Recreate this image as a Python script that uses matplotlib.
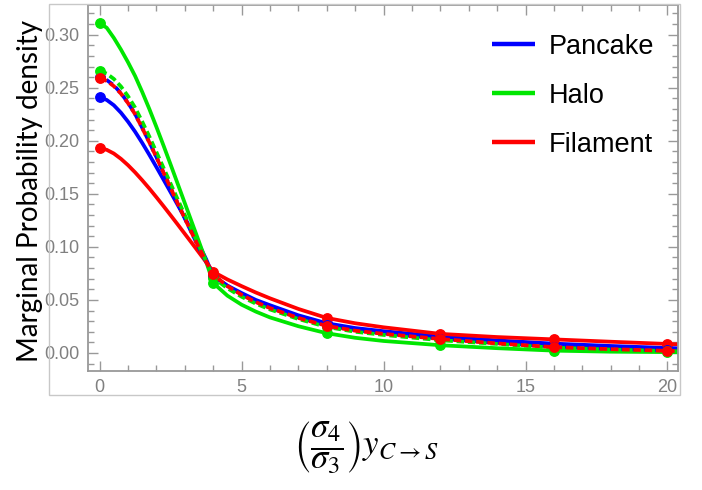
import matplotlib.pyplot as plt
from matplotlib.patches import Rectangle
from matplotlib.ticker import MultipleLocator, FormatStrFormatter

# curve samples (x in units of (sigma4/sigma3) y_{C->S})
x_vals = [0, 0.25, 0.5, 0.75, 1, 1.25, 1.5, 1.75, 2, 2.25, 2.5, 2.75, 3, 3.25, 3.5, 3.75, 4,
          4.5, 5, 5.5, 6, 7, 8, 9, 10, 12, 14, 16, 18, 20, 20.4]
# indices of the sampled points shown as dots (x = 0, 4, 8, 12, 16, 20)
dot_idx = [0, 16, 22, 25, 27, 29]

pancake = [0.241, 0.2385, 0.2335, 0.2265, 0.2180, 0.2085, 0.1980, 0.1868, 0.1752, 0.1634,
           0.1515, 0.1395, 0.1275, 0.1150, 0.1022, 0.0885, 0.0725,
           0.0635, 0.0565, 0.0500, 0.0450, 0.0355, 0.0280, 0.0235, 0.0205, 0.0155, 0.0118,
           0.0088, 0.0066, 0.0047, 0.0044]
halo = [0.311, 0.3065, 0.297, 0.286, 0.274, 0.261, 0.246, 0.230, 0.213, 0.1955,
        0.1776, 0.1594, 0.1412, 0.1230, 0.1048, 0.0862, 0.066,
        0.054, 0.0455, 0.039, 0.0335, 0.0252, 0.0186, 0.0143, 0.0113, 0.0073, 0.0045,
        0.0022, 0.0012, 0.0008, 0.0007]
filament = [0.193, 0.1915, 0.1880, 0.1830, 0.1770, 0.1702, 0.1628, 0.1550, 0.1468, 0.1384,
            0.1298, 0.1211, 0.1123, 0.1035, 0.0946, 0.0857, 0.0765,
            0.0693, 0.0630, 0.0570, 0.0515, 0.0415, 0.0330, 0.0280, 0.0242, 0.0180, 0.0150,
            0.0128, 0.0106, 0.0085, 0.0082]

# dashed counterparts
pancake_d = [0.260, 0.2573, 0.2522, 0.2450, 0.2358, 0.2252, 0.2122, 0.1987, 0.1846, 0.1701,
             0.1556, 0.1411, 0.1268, 0.1128, 0.0990, 0.0860, 0.0730,
             0.0632, 0.0552, 0.0485, 0.0428, 0.0335, 0.0260, 0.0215, 0.0185, 0.0135, 0.0095,
             0.0060, 0.0040, 0.0025, 0.0022]
halo_d = [0.266, 0.2633, 0.2583, 0.2512, 0.2420, 0.2312, 0.2180, 0.2040, 0.1893, 0.1745,
          0.1595, 0.1447, 0.1300, 0.1153, 0.1005, 0.0865, 0.0710,
          0.0610, 0.0530, 0.0465, 0.0410, 0.0320, 0.0245, 0.0200, 0.0170, 0.0120, 0.0085,
          0.0050, 0.0032, 0.0018, 0.0016]
filament_d = [0.259, 0.2565, 0.2515, 0.2445, 0.2355, 0.2250, 0.2120, 0.1985, 0.1845, 0.1700,
              0.1555, 0.1410, 0.1268, 0.1128, 0.0990, 0.0862, 0.0740,
              0.0630, 0.0548, 0.0480, 0.0423, 0.0330, 0.0255, 0.0210, 0.0180, 0.0132, 0.0090,
              0.0055, 0.0036, 0.0020, 0.0018]

labels = ['Pancake', 'Halo', 'Filament']
BLUE, GREEN, RED = '#0000ff', '#00e600', '#ff0000'

plt.rcParams['mathtext.fontset'] = 'stix'
fig = plt.figure(figsize=(7.02, 4.9), dpi=100)
ax = fig.add_axes([88/702, 119/490, 590/702, 366/490])

lw = 2.7
ms = 6.8
for ys, c, lab in [(pancake, BLUE, labels[0]), (halo, GREEN, labels[1]), (filament, RED, labels[2])]:
    ax.plot(x_vals, ys, color=c, lw=lw, marker='o', ms=ms, markevery=dot_idx,
            label=lab, solid_capstyle='butt')
for ys, c, off in [(pancake_d, BLUE, 1.0), (halo_d, GREEN, 0.0), (filament_d, RED, 0.0)]:
    ax.plot(x_vals, ys, color=c, lw=lw, marker='o', ms=ms, markevery=dot_idx,
            linestyle=(off, (2.0, 1.0)), dash_capstyle='butt')

ax.set_xlim(-0.41, 20.37)
ax.set_ylim(-0.017, 0.328)

frame_col = '#999999'
for s in ax.spines.values():
    s.set_color(frame_col)
    s.set_linewidth(1.3)
ax.xaxis.set_major_locator(MultipleLocator(5))
ax.xaxis.set_minor_locator(MultipleLocator(1))
ax.yaxis.set_major_locator(MultipleLocator(0.05))
ax.yaxis.set_minor_locator(MultipleLocator(0.01))
ax.yaxis.set_major_formatter(FormatStrFormatter('%.2f'))
ax.tick_params(which='both', direction='in', top=True, right=True, color=frame_col, width=1.0)
ax.tick_params(which='major', length=7, labelsize=13, labelcolor='#808080', pad=6)
ax.tick_params(which='minor', length=4)
for t in ax.get_xticklabels() + ax.get_yticklabels():
    t.set_family('Liberation Sans')

leg = ax.legend(loc='upper left', bbox_to_anchor=(0.685, 0.921), frameon=False,
                prop={'family': 'Liberation Sans', 'size': 19.5},
                handlelength=1.6, handletextpad=0.5, labelspacing=0.85, borderpad=0,
                borderaxespad=0)
for h in leg.get_lines():
    h.set_marker('')
    h.set_linewidth(3.2)

fig.text(30/702, 1 - 191/490, 'Marginal Probability density', rotation=90,
         ha='center', va='center', family='Lato', fontsize=20, color='black')
fig.text(366/702, 1 - 448/490,
         r'$\left(\dfrac{\sigma_4}{\sigma_3}\right) y_{C\rightarrow S}$',
         ha='center', va='center', fontsize=25, color='black')

# light border around the plot area
fig.patches.append(Rectangle((49/702, 1 - 395/490), (680 - 49)/702, (395 - 4)/490,
                             transform=fig.transFigure, fill=False,
                             edgecolor='#c8c8c8', lw=1.0))

fig.savefig('out.png', dpi=100)
